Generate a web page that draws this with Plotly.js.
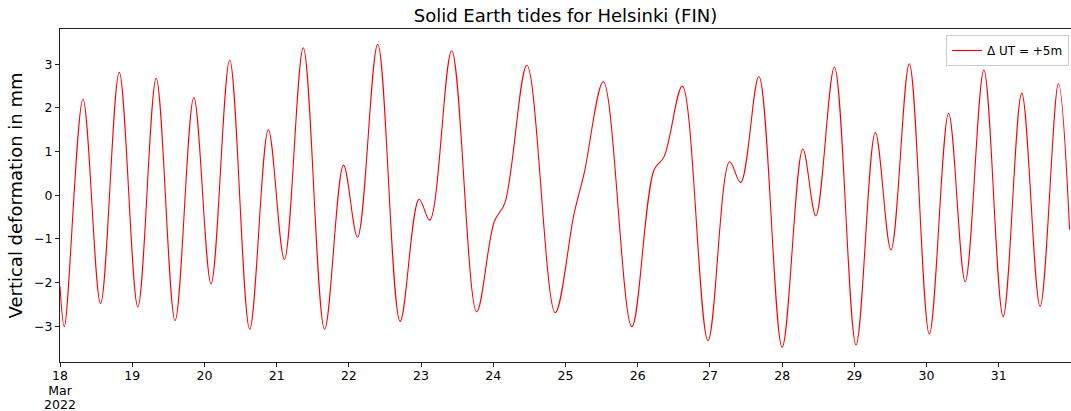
<!DOCTYPE html>
<html>
<head>
<meta charset="utf-8">
<script src="https://cdn.plot.ly/plotly-3.0.1.min.js"></script>
<style>html,body{margin:0;padding:0;background:#fff;}#chart{width:1071px;height:411px;}</style>
</head>
<body>
<div id="chart"></div>
<script>
// Time in decimal day-of-March 2022 (UT), value in mm (turning points)
const days = [18.00, 18.06, 18.318, 18.562, 18.82, 19.078, 19.332, 19.594, 19.853, 20.092,
  20.35, 20.627, 20.885, 21.107, 21.369, 21.664, 21.926, 22.12, 22.40, 22.71,
  22.973, 23.12, 23.424, 23.77, 24.014, 24.16, 24.466, 24.857, 25.12, 25.258,
  25.525, 25.918, 26.226, 26.364, 26.618, 26.973, 27.273, 27.425, 27.678, 28.0,
  28.286, 28.466, 28.724, 29.023, 29.29, 29.507, 29.761, 30.038, 30.305, 30.535,
  30.793, 31.06, 31.318, 31.572, 31.826, 31.98];
const deformation = [-2.09, -3.01, 2.20, -2.48, 2.82, -2.56, 2.68, -2.87, 2.24, -2.03,
  3.10, -3.07, 1.50, -1.47, 3.38, -3.07, 0.69, -0.96, 3.46, -2.89,
  -0.09, -0.57, 3.31, -2.67, -0.60, -0.18, 2.98, -2.69, -0.41, 0.50,
  2.60, -3.01, 0.58, 0.88, 2.50, -3.33, 0.77, 0.29, 2.72, -3.48,
  1.06, -0.47, 2.94, -3.43, 1.44, -1.25, 3.01, -3.18, 1.88, -1.98,
  2.87, -2.78, 2.34, -2.55, 2.56, -0.79];
const tickDays = [18, 19, 20, 21, 22, 23, 24, 25, 26, 27, 28, 29, 30, 31];
const tickLabels = [['18', 'Mar', '2022'], ['19'], ['20'], ['21'], ['22'], ['23'], ['24'], ['25'], ['26'], ['27'], ['28'], ['29'], ['30'], ['31']];
const yTicks = [-3, -2, -1, 0, 1, 2, 3];

const tickText = tickLabels.map(lines => lines.map(s => '<span style="font-size:12.5px">' + s + '</span>').join('<br>'));

const trace = {
  x: days, y: deformation, type: 'scatter', mode: 'lines',
  name: 'Δ UT = +5m',
  line: {color: '#ff0000', width: 1.1, shape: 'spline', smoothing: 1.0}
};
const layout = {
  width: 1071, height: 411,
  margin: {l: 60, r: 0, t: 29, b: 49},
  paper_bgcolor: '#fff', plot_bgcolor: '#fff',
  font: {family: 'DejaVu Sans, sans-serif', color: '#000', size: 12},
  title: {text: 'Solid Earth tides for Helsinki (FIN)', font: {size: 18}, x: 0.5, xref: 'paper', y: 0.963, yanchor: 'middle'},
  xaxis: {range: [18, 32], tickvals: tickDays, ticktext: tickText, showgrid: false, zeroline: false,
    showline: true, linecolor: '#222', linewidth: 1, mirror: true, ticks: 'outside', ticklen: 4, tickcolor: '#222',
    tickfont: {size: 11}},
  yaxis: {range: [-3.82, 3.81], tickvals: yTicks, showgrid: false, zeroline: false,
    showline: true, linecolor: '#222', linewidth: 1, mirror: true, ticks: 'outside', ticklen: 4, tickcolor: '#222',
    tickfont: {size: 12.5},
    title: {text: 'Vertical deformation in mm', font: {size: 18}, standoff: 6}},
  showlegend: true,
  legend: {x: 0.998, y: 0.982, xanchor: 'right', yanchor: 'top', bgcolor: '#fff', bordercolor: '#cccccc', borderwidth: 1,
    font: {size: 12}, itemwidth: 30}
};
Plotly.newPlot('chart', [trace], layout, {displayModeBar: false, staticPlot: true});
</script>
</body>
</html>
